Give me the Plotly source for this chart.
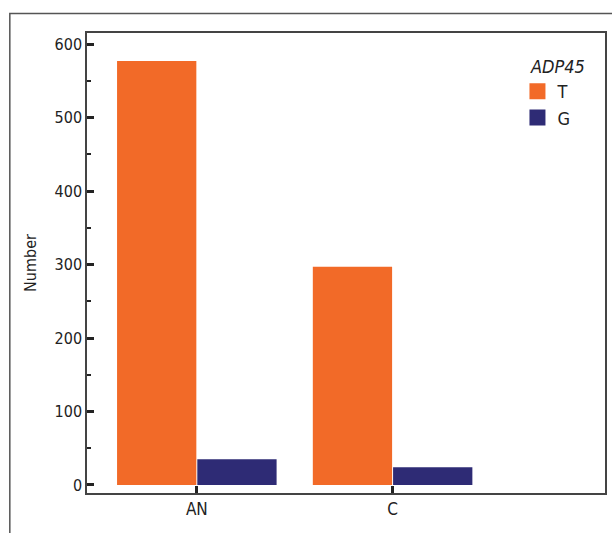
import plotly.graph_objects as go

categories = ["AN", "C"]
x_pos = [0, 1]
t_values = [577, 297]
g_values = [35, 24]
y_ticks = [0, 100, 200, 300, 400, 500, 600]

FONT = "DejaVu Sans Condensed, Liberation Sans Narrow, Roboto, sans-serif"
ORANGE = "#F26A28"
NAVY = "#2E2B75"

fig = go.Figure()
fig.add_trace(go.Bar(x=[p - 0.205 for p in x_pos], y=t_values, name="T", width=0.405,
                     marker=dict(color=ORANGE, line=dict(width=0)), showlegend=False))
fig.add_trace(go.Bar(x=[p + 0.205 for p in x_pos], y=g_values, name="G", width=0.405,
                     marker=dict(color=NAVY, line=dict(width=0)), showlegend=False))
# legend entries with larger square swatches
for nm, col in [("T", ORANGE), ("G", NAVY)]:
    fig.add_trace(go.Scatter(x=[None], y=[None], mode="markers", name=nm,
                             marker=dict(symbol="square", size=16, color=col)))

fig.update_layout(
    width=612, height=533,
    margin=dict(l=87, r=5, t=33, b=40),
    paper_bgcolor="white", plot_bgcolor="white",
    font=dict(family=FONT, size=16, color="#222"),
    barmode="overlay",
    showlegend=True,
    legend=dict(x=0.831, y=0.913, xanchor="left", yanchor="top",
                font=dict(size=18, family=FONT), bgcolor="rgba(0,0,0,0)",
                itemsizing="trace", tracegroupgap=0),
    xaxis=dict(range=[-0.561, 2.085], tickvals=x_pos, ticktext=categories,
               showline=True, linecolor="#444", linewidth=1.5, mirror=True,
               ticks="inside", ticklen=7, tickwidth=2.5, tickcolor="#222",
               showgrid=False, zeroline=False, tickfont=dict(size=17)),
    yaxis=dict(range=[-10.9, 615], tickvals=y_ticks,
               showline=True, linecolor="#444", linewidth=1.5, mirror=True,
               ticks="inside", ticklen=7, tickwidth=2.5, tickcolor="#222",
               minor=dict(dtick=50, ticks="inside", ticklen=4, tickwidth=1.5, tickcolor="#222"),
               showgrid=False, zeroline=False, tickfont=dict(size=16),
               title=dict(text="Number", font=dict(size=16), standoff=14)),
    annotations=[dict(text="<i>ADP45</i>", xref="paper", yref="paper",
                      x=0.852, y=0.928, xanchor="left", yanchor="middle",
                      showarrow=False, font=dict(size=18, family=FONT))],
    shapes=[dict(type="rect", xref="paper", yref="paper",
                 x0=-0.149, y0=-0.3, x1=1.2, y1=1.0424,
                 line=dict(color="#555", width=1.5), layer="below")],
)

fig.write_html("out.html")
